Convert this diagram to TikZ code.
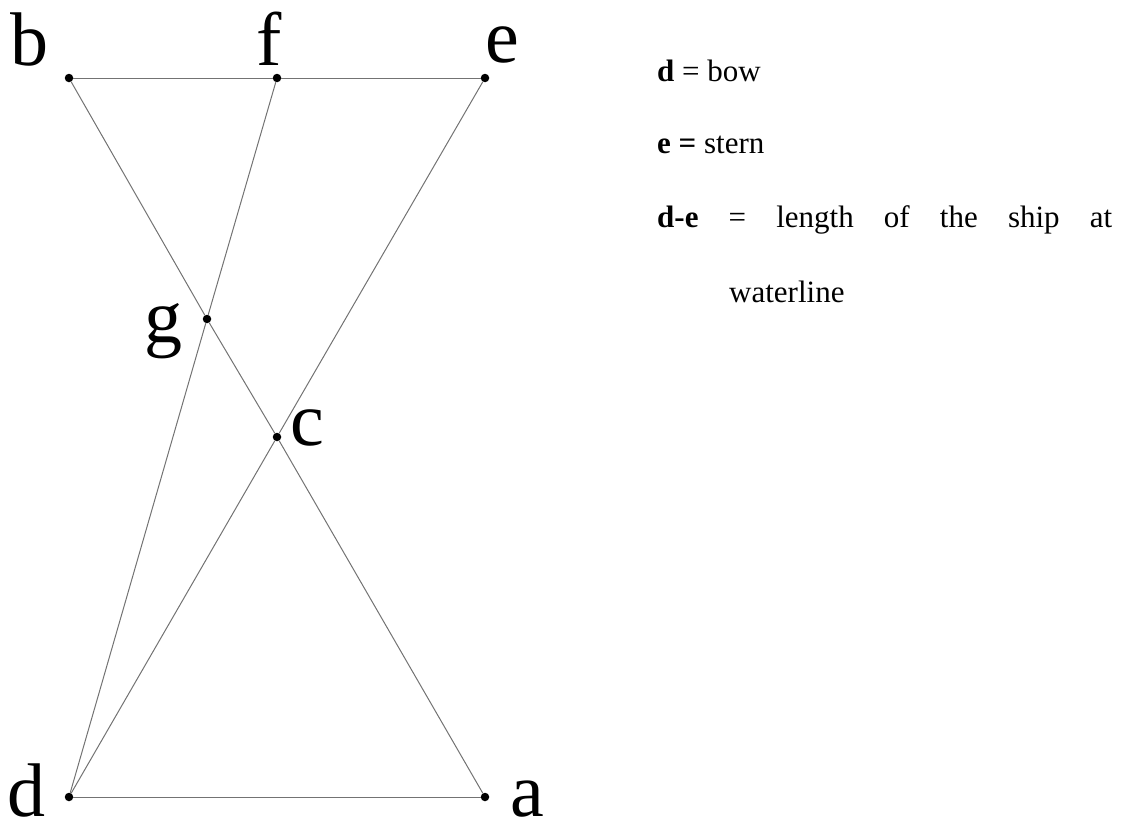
\documentclass[tikz,border=0pt]{standalone}
\usepackage{fontspec}
\setmainfont{Liberation Serif}

\begin{document}
\begin{tikzpicture}[
    x=1pt, y=-1pt,
    vtx/.style={fill=black, circle, minimum size=8.5pt, inner sep=0pt},
    lbl/.style={font=\fontsize{76}{80}\selectfont, inner sep=0pt, anchor=base},
    edge/.style={draw=black!55, line width=1pt},
    annot/.style={font=\fontsize{31}{36}\selectfont, inner sep=0pt, anchor=base west}
]
\useasboundingbox (0,0) rectangle (1126,827);

% =========================================================
% POINTS
% =========================================================
\node[vtx] (b) at (69,78)   {};
\node[vtx] (f) at (277,78)  {};
\node[vtx] (e) at (485,78)  {};
\node[vtx] (g) at (207,319) {};
\node[vtx] (c) at (277,437) {};
\node[vtx] (d) at (69,797)  {};
\node[vtx] (a) at (485,797) {};

% letters beside the points
\node[lbl] (lb) at ([shift={(-40,-13)}]b) {b};
\node[lbl] (lf) at ([shift={(-8,-13)}]f)  {f};
\node[lbl] (le) at ([shift={(17,-16)}]e)  {e};
\node[lbl] (lg) at ([shift={(-44,23)}]g)  {g};
\node[lbl] (lc) at ([shift={(30,8)}]c)    {c};
\node[lbl] (ld) at ([shift={(-42,19)}]d)  {d};
\node[lbl] (la) at ([shift={(42,19)}]a)   {a};

% =========================================================
% LINES
% =========================================================
\draw[edge] (b) -- (f) -- (e);
\draw[edge] (d) -- (a);
\draw[edge] (b) -- (g) -- (c) -- (a);
\draw[edge] (e) -- (c) -- (d);
\draw[edge] (f) -- (g) -- (d);

% =========================================================
% LEGEND
% =========================================================
\node[annot] (bowtxt)   at (657,81)  {\textbf{d} = bow};
\node[annot] (sterntxt) at (657,153) {\textbf{e =} stern};
\node[annot] (lentxt)   at (657,227)
    {\makebox[455pt][s]{\textbf{d-e} = length of the ship at}};
\node[annot] (watertxt) at (729,302) {waterline};

\end{tikzpicture}
\end{document}
